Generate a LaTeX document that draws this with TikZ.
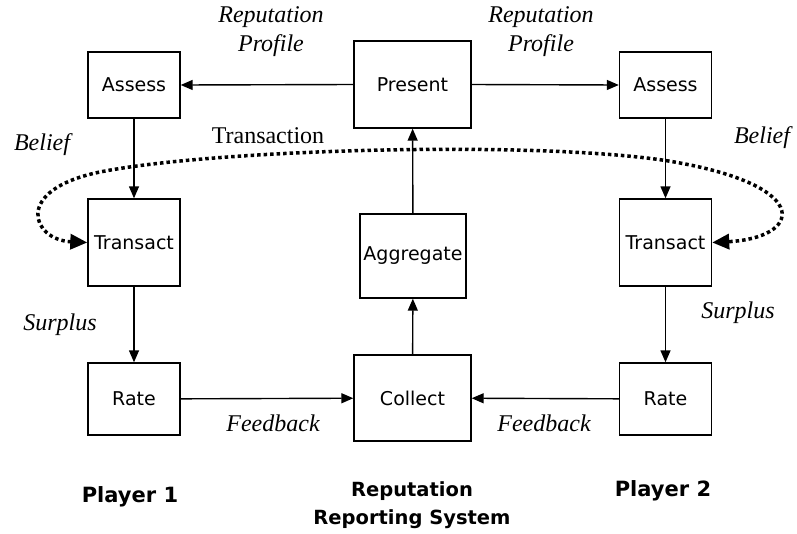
\documentclass[tikz,border=0pt]{standalone}
\usepackage{fontspec}
\setmainfont{Liberation Serif}
\newfontfamily\boxfont{DejaVu Sans}
\usetikzlibrary{arrows.meta}
\begin{document}
\begin{tikzpicture}[x=1pt,y=-1pt,
  stepbox/.style={draw,line width=1.4pt,minimum width=92pt,inner sep=0pt,font=\boxfont\fontsize{19}{20}\selectfont},
  bigbox/.style={stepbox,minimum width=117pt,minimum height=87pt},
  lab/.style={font=\itshape\fontsize{24}{29}\selectfont,align=center,inner sep=0pt},
  grp/.style={font=\boxfont\bfseries\fontsize{21}{28}\selectfont,align=center,inner sep=0pt},
  arr/.style={line width=1.4pt,-{Triangle[length=12pt,width=10pt]}},
  dotarr/.style={line width=3.5pt,dash pattern=on 3.5pt off 3pt,{Triangle[length=17pt,width=15pt]}-{Triangle[length=17pt,width=15pt]}}]
\useasboundingbox (0,0) rectangle (797,533);
% boxes
\node[stepbox,minimum height=66pt] (al) at (134,85) {Assess};
\node[bigbox] (pr) at (412.5,84.5) {Present};
\node[stepbox,minimum height=66pt] (ar) at (665.5,85) {Assess};
\node[stepbox,minimum height=87pt] (tl) at (134,242.5) {Transact};
\node[stepbox,minimum width=106pt,minimum height=84pt] (ag) at (413,256) {Aggregate};
\node[stepbox,minimum height=87pt] (tr) at (665.5,242.5) {Transact};
\node[stepbox,minimum height=72pt] (rl) at (134,399) {Rate};
\node[bigbox,minimum height=86pt] (co) at (412.5,398) {Collect};
\node[stepbox,minimum height=72pt] (rr) at (665.5,399) {Rate};
% connectors
\draw[arr] (pr.west) -- (al.east);
\draw[arr] (pr.east) -- (ar.west);
\draw[arr] (al) -- (tl);
\draw[arr] (ar) -- (tr);
\draw[arr] (tl) -- (rl);
\draw[arr] (tr) -- (rr);
\draw[arr] (rl) -- (co);
\draw[arr] (rr) -- (co);
\draw[arr] (co) -- (ag);
\draw[arr] (ag) -- (pr);
\draw[dotarr] (tl.west) .. controls (32,240) and (12,190) .. (100,172)
  .. controls (220,148) and (560,140) .. (680,163)
  .. controls (815,188) and (800,238) .. (tr.east);
% labels
\node[lab] (rp1) at (271,32) {Reputation\\Profile};
\node[lab] (rp2) at (541,32) {Reputation\\Profile};
\node[lab] (bl) at (42,145) {Belief};
\node[lab] (br) at (762,138) {Belief};
\node[lab,font=\fontsize{24}{29}\selectfont] (tx) at (268,136) {Transaction};
\node[lab] (sl) at (60,325) {Surplus};
\node[lab] (sr) at (738,313) {Surplus};
\node[lab] (fl) at (273,423) {Feedback};
\node[lab] (fr) at (544,423) {Feedback};
\node[grp] (p1) at (130,497) {Player 1};
\node[grp,font=\boxfont\bfseries\fontsize{19.5}{28}\selectfont] (rs) at (412,505) {Reputation\\Reporting System};
\node[grp] (p2) at (663,491) {Player 2};
\end{tikzpicture}
\end{document}
